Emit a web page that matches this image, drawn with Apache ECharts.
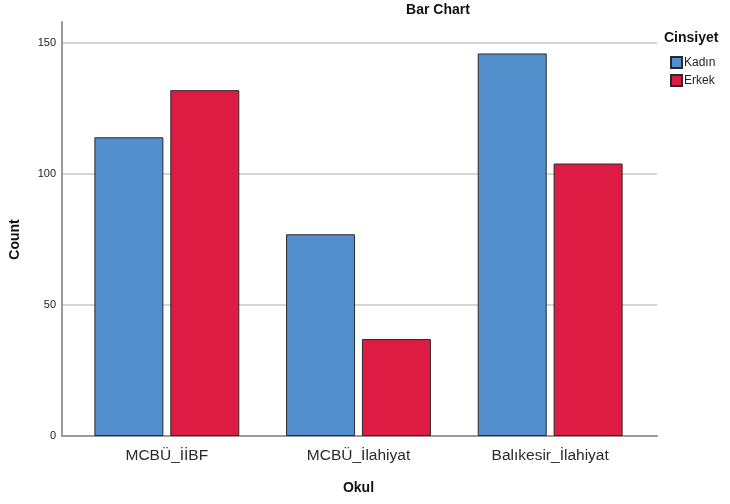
<!DOCTYPE html>
<html><head><meta charset="utf-8">
<script src="https://cdn.jsdelivr.net/npm/echarts@6/dist/echarts.min.js"></script>
<style>html,body{margin:0;padding:0;background:#fff}#c{width:730px;height:504px}</style>
</head><body><div id="c"></div>
<script>
var categories = ["MCBÜ_İİBF", "MCBÜ_İlahiyat", "Balıkesir_İlahiyat"];
var kadin = [114, 77, 146];
var erkek = [132, 37, 104];
var yTicks = [0, 50, 100, 150];
var seriesNames = ["Kadın", "Erkek"];

var FONT = "Liberation Sans, Arial, sans-serif";
var chart = echarts.init(document.getElementById('c'), null, {renderer: 'canvas'});
chart.setOption({
  animation: false,
  backgroundColor: '#fff',
  title: [
    {text: 'Bar Chart', left: 438, top: 3, textAlign: 'center', padding: 0,
     textStyle: {fontFamily: FONT, fontSize: 14, fontWeight: 'bold', color: '#111'}},
    {text: 'Cinsiyet', left: 664, top: 31, padding: 0,
     textStyle: {fontFamily: FONT, fontSize: 14, fontWeight: 'bold', color: '#111'}}
  ],
  legend: {
    data: seriesNames, orient: 'vertical', left: 670, top: 56, padding: 0,
    itemWidth: 11, itemHeight: 11, itemGap: 5, icon: 'rect',
    textStyle: {fontFamily: FONT, fontSize: 12, color: '#222', padding: [0,0,0,-3]}
  },
  grid: [
    {left: 62, right: 73, top: 22, bottom: 68},
    {left: 62, right: 73, top: 43, bottom: 68},
    {left: 71, right: 84, top: 43, bottom: 68}
  ],
  xAxis: [
    {gridIndex: 0, type: 'value', min: 0, max: 1,
     axisLine: {show: true, onZero: false, lineStyle: {color: '#999', width: 2}},
     axisTick: {show: false}, axisLabel: {show: false}, splitLine: {show: false}},
    {gridIndex: 1, type: 'value', min: 0, max: 1, show: false},
    {gridIndex: 2, type: 'category', data: categories,
     axisLine: {show: false}, axisTick: {show: false},
     axisLabel: {fontFamily: FONT, fontSize: 15.5, color: '#2a2a2a', margin: 12},
     name: 'Okul', nameLocation: 'middle', nameGap: 45,
     nameTextStyle: {fontFamily: FONT, fontSize: 14, fontWeight: 'bold', color: '#111'}}
  ],
  yAxis: [
    {gridIndex: 0, type: 'value', min: 0, max: 158,
     axisLine: {show: true, lineStyle: {color: '#999', width: 2}},
     axisTick: {show: false}, axisLabel: {show: false}, splitLine: {show: false}},
    {gridIndex: 1, type: 'value', min: 0, max: yTicks[yTicks.length-1], interval: 50,
     axisLine: {show: false}, axisTick: {show: false},
     axisLabel: {fontFamily: FONT, fontSize: 11, color: '#222', margin: 6},
     splitLine: {show: true, lineStyle: {color: '#c8c8c8', width: 1.5}},
     name: 'Count', nameLocation: 'middle', nameGap: 40, nameRotate: 90,
     nameTextStyle: {fontFamily: FONT, fontSize: 14, fontWeight: 'bold', color: '#111'}},
    {gridIndex: 2, type: 'value', min: 0, max: yTicks[yTicks.length-1], show: false}
  ],
  series: [
    {name: seriesNames[0], type: 'bar', xAxisIndex: 2, yAxisIndex: 2, data: kadin,
     barWidth: 69, barGap: '10%',
     itemStyle: {color: '#528fcc', borderColor: '#2a2a2a', borderWidth: 1}},
    {name: seriesNames[1], type: 'bar', xAxisIndex: 2, yAxisIndex: 2, data: erkek,
     barWidth: 69, barGap: '10%',
     itemStyle: {color: '#dd1b43', borderColor: '#2a2a2a', borderWidth: 1}}
  ]
});
</script></body></html>
